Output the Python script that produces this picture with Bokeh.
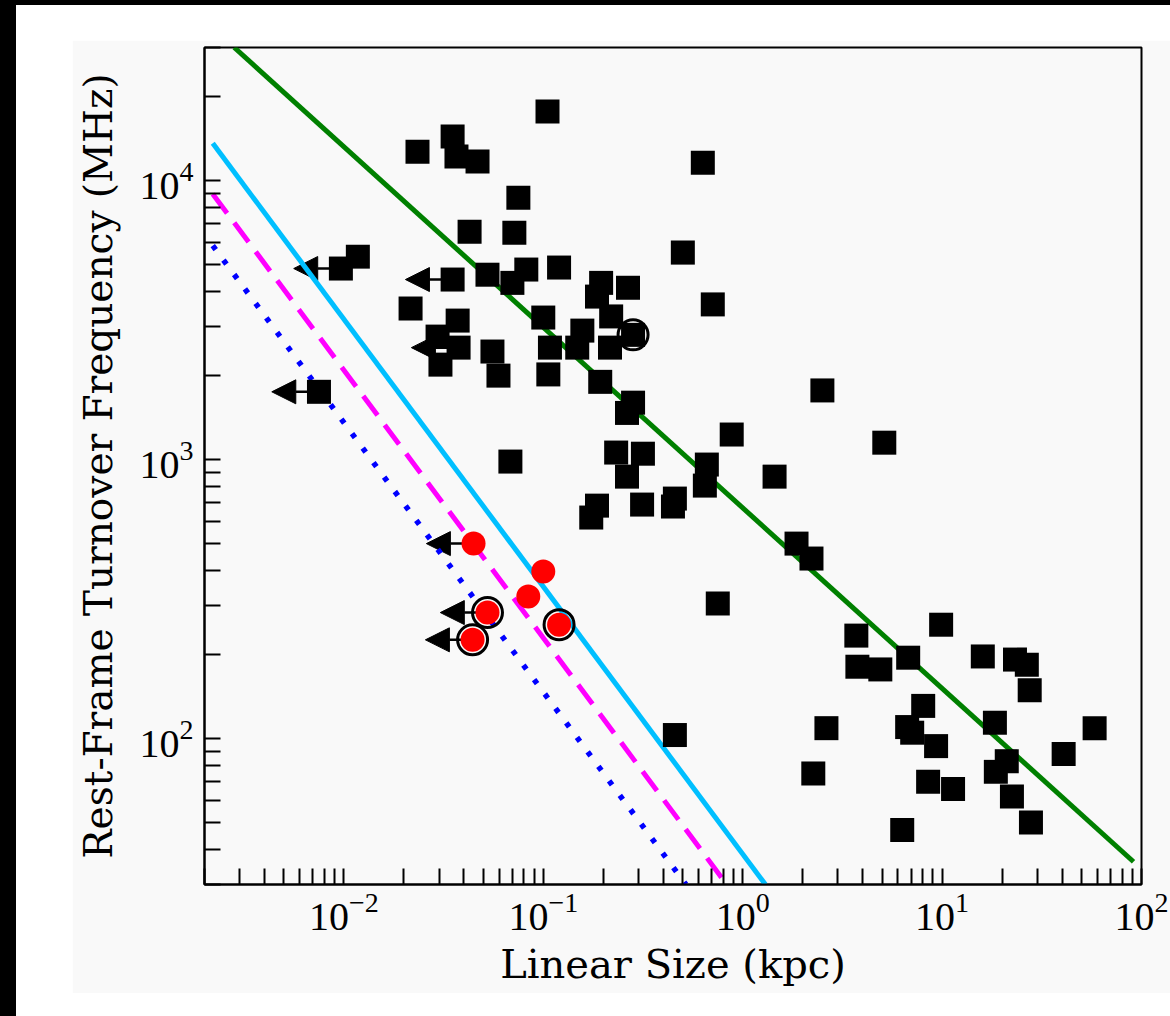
from bokeh.plotting import figure
from bokeh.models import ColumnDataSource, FixedTicker, Arrow, NormalHead, LogTickFormatter
from bokeh.layouts import column
from bokeh.embed import file_html
from bokeh.resources import INLINE

# ---- data ----
# black squares: linear size (kpc), rest-frame turnover frequency (MHz)
sq_size = [0.105, 0.0234, 0.0351, 0.0367, 0.0468, 0.631, 0.075, 0.0427, 0.0716, 0.501,
           0.120, 0.01175, 0.00966, 0.0351, 0.0525, 0.0822, 0.070, 0.195, 0.266, 0.186,
           0.708, 0.0216, 0.0372, 0.100, 0.219, 0.157, 0.282, 0.0295, 0.0376, 0.0305,
           0.0556, 0.0596, 0.108, 0.148, 0.216, 0.106, 0.193, 0.282, 0.263, 0.0075,
           2.51, 0.881, 5.13, 0.0684, 0.232, 0.316, 0.263, 0.661, 0.646, 1.445,
           0.186, 0.174, 0.313, 0.457, 0.447, 1.862, 2.213, 0.75, 3.715, 3.76,
           4.90, 6.76, 9.89, 16.0, 23.2, 26.6, 27.5, 8.04, 6.68, 7.08,
           9.33, 2.63, 18.4, 58.2, 40.7, 21.1, 18.6, 2.26, 8.51, 11.35,
           22.4, 27.9, 6.31, 0.457]
sq_freq = [17700, 12700, 14400, 12200, 11700, 11600, 8690, 6560, 6510, 5520,
           4880, 5340, 4840, 4420, 4600, 4800, 4300, 4300, 4130, 3840,
           3600, 3480, 3150, 3230, 3260, 2900, 2800, 2760, 2520, 2190,
           2440, 2000, 2520, 2520, 2520, 2020, 1900, 1600, 1470, 1750,
           1770, 1230, 1150, 984, 1060, 1050, 869, 960, 807, 869,
           684, 620, 690, 725, 679, 500, 442, 305, 234, 181,
           177, 195, 256, 197, 192, 184, 149, 131, 110, 105,
           94, 109, 114, 109, 88, 83, 76, 75, 70, 66,
           62, 50, 47, 103]

# red circles
red_size = [0.0447, 0.100, 0.0841, 0.0525, 0.120, 0.0442]
red_freq = [500, 397, 323, 283, 256, 226]

# open black rings (highlighted sources)
ring_size = [0.0525, 0.120, 0.0442, 0.282]
ring_freq = [283, 256, 226, 2800]

# upper limits on size (left arrows)
lim_size = [0.00966, 0.0351, 0.0376, 0.0075, 0.0447, 0.0525, 0.0442]
lim_freq = [4840, 4420, 2520, 1750, 500, 283, 226]
ARROW_FACTOR = 0.58

# model lines (end points)
green_x = [0.00282, 91.2]
green_y = [30000, 36.2]
cyan_x = [0.0022, 1.30]
cyan_y = [13600, 30]
mag_x = [0.0022, 0.832]
mag_y = [8960, 30]
blue_x = [0.0022, 0.519]
blue_y = [5850, 30]

# axis ticks
x_ticks = [0.01, 0.1, 1, 10, 100]
y_ticks = [100, 1000, 10000]
x_minor = [m * 10.0 ** e for e in range(-3, 2) for m in range(2, 10)]
y_minor = [m * 10.0 ** e for e in range(1, 5) for m in range(2, 10)]

PANEL = "#f9f9f9"
TITLE_FONT = "DejaVu Serif"
TICK_FONT = "Liberation Serif"

p = figure(width=1098, height=953, x_axis_type="log", y_axis_type="log",
           x_range=(0.002, 100), y_range=(30, 30000),
           output_backend="svg", toolbar_location=None,
           min_border_left=132, min_border_right=29, min_border_top=7, min_border_bottom=109,
           background_fill_color=PANEL, border_fill_color=PANEL)
p.margin = (35, 0, 0, 56)
p.xgrid.grid_line_color = None
p.ygrid.grid_line_color = None
p.outline_line_color = "black"
p.outline_line_width = 2

p.xaxis.ticker = FixedTicker(ticks=x_ticks, minor_ticks=x_minor)
p.yaxis.ticker = FixedTicker(ticks=y_ticks, minor_ticks=y_minor)
p.xaxis.formatter = LogTickFormatter()
p.yaxis.formatter = LogTickFormatter()
for ax in (p.xaxis, p.yaxis):
    ax.major_tick_in = 16
    ax.major_tick_out = 0
    ax.minor_tick_in = 16
    ax.minor_tick_out = 0
    ax.major_tick_line_width = 2
    ax.minor_tick_line_width = 2
    ax.axis_line_width = 2
    ax.major_tick_line_color = "black"
    ax.minor_tick_line_color = "black"
    ax.axis_line_color = "black"
    ax.major_label_text_font = TICK_FONT
    ax.major_label_text_font_size = "40px"
    ax.major_label_text_color = "black"
    ax.axis_label_text_font = TITLE_FONT
    ax.axis_label_text_font_style = "normal"
    ax.axis_label_text_color = "black"
p.xaxis.axis_label = "Linear Size (kpc)"
p.yaxis.axis_label = "Rest-Frame Turnover Frequency (MHz)"
p.xaxis.axis_label_text_font_size = "40px"
p.yaxis.axis_label_text_font_size = "39px"
p.xaxis.major_label_standoff = 8
p.yaxis.major_label_standoff = 11
p.xaxis.axis_label_standoff = 8
p.yaxis.axis_label_standoff = 16

# arrows (drawn beneath markers)
lim_src = ColumnDataSource(dict(x=lim_size, y=lim_freq,
                                xt=[v * ARROW_FACTOR for v in lim_size]))
p.add_layout(Arrow(end=NormalHead(size=24, fill_color="black", line_color="black", line_width=1),
                   x_start="x", y_start="y", x_end="xt", y_end="y", source=lim_src,
                   line_color="black", line_width=2.5, level="underlay"))

# lines
p.line(green_x, green_y, line_color="#008000", line_width=5)
p.line(cyan_x, cyan_y, line_color="#00bfff", line_width=5)
p.line(mag_x, mag_y, line_color="#ff00ff", line_width=5, line_dash="24 12")
p.line(blue_x, blue_y, line_color="#0000ff", line_width=5.5, line_dash="5 13")

# markers
p.scatter(sq_size, sq_freq, marker="square", size=24, fill_color="black", line_color=None)
p.scatter(red_size, red_freq, marker="circle", size=24, fill_color="#ff0000", line_color=None)
p.scatter(ring_size, ring_freq, marker="circle", size=30, fill_color=None,
          line_color="black", line_width=3)

white = column(p, width=1154, height=1011, margin=(5, 0, 0, 16),
               styles={"background-color": "white"})
outer = column(white, width=1170, height=1016, styles={"background-color": "black"})

open("out.html", "w").write(file_html(outer, INLINE))
